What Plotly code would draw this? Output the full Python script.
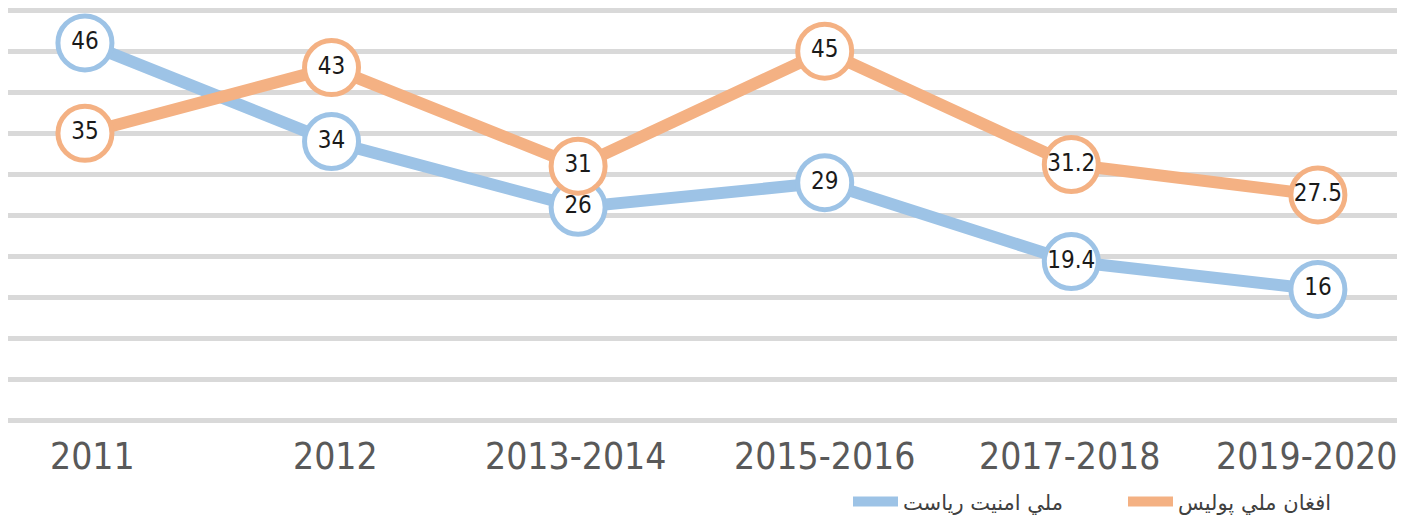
import plotly.graph_objects as go

categories = ["2011", "2012", "2013-2014", "2015-2016", "2017-2018", "2019-2020"]
nds_values = [46, 34, 26, 29, 19.4, 16]       # ملي امنیت ریاست
anp_values = [35, 43, 31, 45, 31.2, 27.5]     # افغان ملي پولیس
nds_name = "ملي امنیت ریاست"
anp_name = "افغان ملي پولیس"

BLUE = "#9dc3e6"
ORANGE = "#f4b183"
NUM_FONT = "DejaVu Sans Condensed, Liberation Sans Narrow, sans-serif"
label_shift = [8, 4, -3, 0, -2, -11]

x_idx = list(range(len(categories)))

fig = go.Figure()
for name, vals, col in [(nds_name, nds_values, BLUE), (anp_name, anp_values, ORANGE)]:
    fig.add_trace(go.Scatter(
        x=x_idx, y=vals, name=name, showlegend=False,
        mode="lines+markers+text",
        line=dict(color=col, width=12),
        marker=dict(size=54, color="white", line=dict(color=col, width=5)),
        text=[str(v) for v in vals],
        textposition="middle center",
        textfont=dict(family=NUM_FONT, size=24, color="#1a1a1a"),
        cliponaxis=False,
    ))
# legend-only entries (plain line symbols)
for name, col in [(nds_name, BLUE), (anp_name, ORANGE)]:
    fig.add_trace(go.Scatter(x=[None], y=[None], name=name, mode="lines",
                             line=dict(color=col, width=10), showlegend=True))

for i, cat in enumerate(categories):
    fig.add_annotation(x=i, xref="x", y=0, yref="paper", yanchor="top", yshift=-10,
                       xshift=label_shift[i], text=cat, showarrow=False,
                       font=dict(family=NUM_FONT, size=37, color="#595959"))

# page body has an 8px margin, so the figure is sized to the visible area
fig.update_layout(
    width=1397, height=514,
    margin=dict(l=0, r=5, t=0, b=99, autoexpand=False),
    paper_bgcolor="white", plot_bgcolor="white",
    showlegend=True,
    legend=dict(orientation="h", x=840 / 1392, xanchor="left", y=-0.19, yanchor="middle",
                font=dict(family="DejaVu Sans, Noto Sans", size=21, color="#404040"),
                itemwidth=45, entrywidth=215, entrywidthmode="pixels",
                traceorder="normal", bgcolor="rgba(0,0,0,0)"),
    xaxis=dict(
        range=[-0.312, 5.333], showticklabels=False, automargin=False,
        showgrid=False, zeroline=False, showline=False, ticks="",
    ),
    yaxis=dict(
        range=[-0.25, 50.25], dtick=5, tick0=0, automargin=False,
        showgrid=True, gridcolor="#d9d9d9", gridwidth=5,
        zeroline=True, zerolinecolor="#d9d9d9", zerolinewidth=5,
        showticklabels=False, showline=False, ticks="",
    ),
)

fig.write_html("out.html")
